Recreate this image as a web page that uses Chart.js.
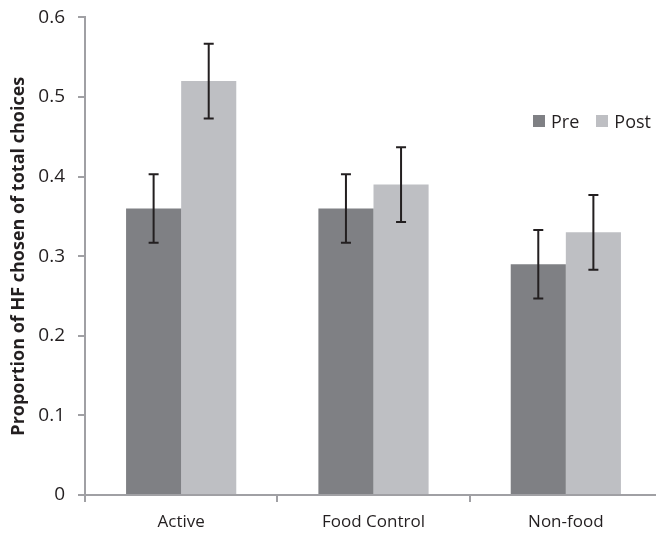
<!DOCTYPE html>
<html lang="en">
<head>
  <meta charset="UTF-8" />
  <title>Proportion of HF chosen</title>
  <script src="https://cdn.jsdelivr.net/npm/chart.js"></script>
  <style>
    html, body {
      margin: 0;
      padding: 0;
      width: 656px;
      height: 534px;
      overflow: hidden;
      background: #fff;
      font-family: "Open Sans", sans-serif;
    }

    /* canvas is a bit bigger than the window: the x axis runs off the right edge like the original,
       and it's nudged up so the 0.6 tick sits near the top */
    .chart-box {
      position: absolute;
      left: 0; top: -7px;
      width: 680px;
      height: 541px;
    }

    .legend {
      position: absolute;
      left: 533px;
      top: 109px;
      display: flex;
      gap: 17px;
      font-size: 18px;
      color: #231f20;
    }

    .legend-item {
      display: flex;
      align-items: center;
      gap: 6px;
    }

    .swatch {
      width: 12px;
      height: 12px;
    }
  </style>
</head>
<body>

  <div class="chart-box">
    <canvas id="hfChart"></canvas>
  </div>
  <div class="legend" id="legend"></div>

<script>
  const categories = ['Active', 'Food Control', 'Non-food'];
  const preValues = [0.36, 0.36, 0.29];
  const postValues = [0.52, 0.39, 0.33];
  const preErrors = [0.043, 0.043, 0.043];
  const postErrors = [0.047, 0.047, 0.047];
  const yTicks = [0, 0.1, 0.2, 0.3, 0.4, 0.5, 0.6];

  const preColor = 'rgb(127, 128, 132)';
  const postColor = 'rgb(190, 191, 195)';
  const axisColor = 'rgb(160, 160, 164)';
  const textColor = '#231f20';

  // draws the error bars from the y scale
  const errorBars = {
    id: 'errorBars',
    afterDatasetsDraw(chart) {
      const ctx = chart.ctx;
      const yScale = chart.scales.y;
      ctx.save();
      ctx.strokeStyle = textColor;
      ctx.lineWidth = 2;
      chart.data.datasets.forEach((ds, i) => {
        const meta = chart.getDatasetMeta(i);
        meta.data.forEach((bar, j) => {
          const v = ds.data[j];
          const e = ds.errors[j];
          const top = yScale.getPixelForValue(v + e);
          const bottom = yScale.getPixelForValue(v - e);
          ctx.beginPath();
          ctx.moveTo(bar.x, top);
          ctx.lineTo(bar.x, bottom);
          ctx.moveTo(bar.x - 5, top);
          ctx.lineTo(bar.x + 5, top);
          ctx.moveTo(bar.x - 5, bottom);
          ctx.lineTo(bar.x + 5, bottom);
          ctx.stroke();
        });
      });
      ctx.restore();
    }
  };

  const ctxHf = document.getElementById('hfChart').getContext('2d');
  const hfChart = new Chart(ctxHf, {
    type: 'bar',
    data: {
      labels: categories,
      datasets: [
        {
          label: 'Pre',
          data: preValues,
          errors: preErrors,
          backgroundColor: preColor,
          borderWidth: 0,
          categoryPercentage: 0.573,
          barPercentage: 1
        },
        {
          label: 'Post',
          data: postValues,
          errors: postErrors,
          backgroundColor: postColor,
          borderWidth: 0,
          categoryPercentage: 0.573,
          barPercentage: 1
        }
      ]
    },
    options: {
      responsive: true,
      maintainAspectRatio: false,
      animation: false,
      layout: {
        padding: { top: 9, right: 18, bottom: 0, left: 0 }
      },
      plugins: {
        legend: { display: false },
        tooltip: { enabled: false }
      },
      scales: {
        x: {
          grid: {
            display: true,
            drawOnChartArea: false,
            color: axisColor,
            lineWidth: 2,
            tickLength: 7,
            offset: true
          },
          border: { color: axisColor, width: 2 },
          ticks: {
            color: textColor,
            font: { family: 'Open Sans', size: 17 },
            padding: 10
          },
          afterFit(scale) { scale.height = 39; }
        },
        y: {
          min: 0,
          max: 0.6,
          afterBuildTicks(scale) {
            scale.ticks = yTicks.map(v => ({ value: v }));
          },
          grid: {
            display: true,
            drawOnChartArea: false,
            color: axisColor,
            lineWidth: 2,
            tickLength: 7
          },
          border: { color: axisColor, width: 2 },
          ticks: {
            color: textColor,
            font: { family: 'Open Sans', size: 19 },
            padding: 13,
            callback: v => String(v)
          },
          title: {
            display: true,
            text: 'Proportion of HF chosen of total choices',
            color: textColor,
            font: { family: 'Open Sans', size: 18, weight: 'bold' },
            padding: { top: 8, bottom: 4 }
          },
          afterFit(scale) { scale.width = 85; }
        }
      }
    },
    plugins: [errorBars]
  });

  // html legend from the datasets
  const legend = document.getElementById('legend');
  hfChart.data.datasets.forEach(ds => {
    const item = document.createElement('div');
    item.className = 'legend-item';
    item.innerHTML = '<span class="swatch" style="background:' + ds.backgroundColor + '"></span><span>' + ds.label + '</span>';
    legend.appendChild(item);
  });
</script>

</body>
</html>
